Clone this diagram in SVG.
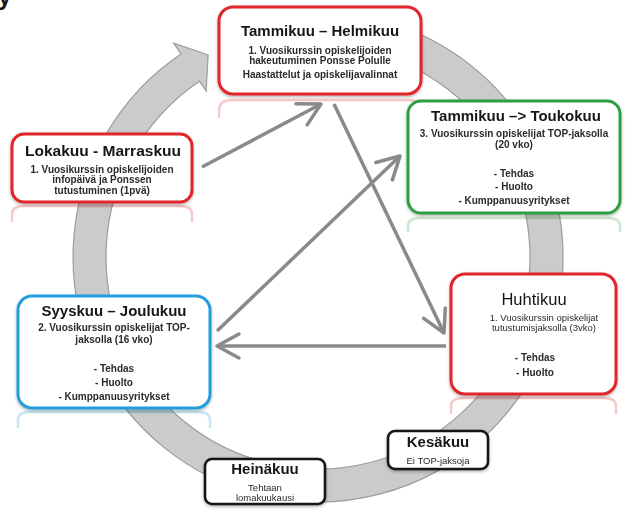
<svg xmlns="http://www.w3.org/2000/svg" width="626" height="512" viewBox="0 0 626 512">
<defs>
<style>
.box{fill:#fff;stroke-width:3}
.red{stroke:#e0252a}
.green{stroke:#2f9e44}
.blue{stroke:#239fda}
.blk{fill:#fff;stroke:#151515;stroke-width:2.6}
.t{font-family:"Liberation Sans",Arial,sans-serif;font-weight:bold;fill:#151515;text-anchor:middle}
.tr{font-family:"Liberation Sans",Arial,sans-serif;fill:#151515;text-anchor:middle}
.b{font-family:"Liberation Sans",Arial,sans-serif;font-weight:bold;font-size:10px;fill:#2a2a2a;text-anchor:middle}
.r{font-family:"Liberation Sans",Arial,sans-serif;font-size:9.5px;fill:#2a2a2a;text-anchor:middle}
.conn{fill:none;stroke:#8a8a8a;stroke-width:3.5;marker-end:url(#ah)}
.refl{fill:none;stroke-width:2.5;opacity:0.25}
</style>
<marker id="ah" markerUnits="userSpaceOnUse" markerWidth="40" markerHeight="40" viewBox="-30 -20 40 40" refX="0" refY="0" orient="auto" overflow="visible">
<path d="M-22,-12 L0,0 L-22,12" fill="none" stroke="#8a8a8a" stroke-width="3.5" stroke-linejoin="round" stroke-linecap="round"/>
</marker>
<filter id="sh" x="-10%" y="-10%" width="120%" height="130%">
<feDropShadow dx="0" dy="1.5" stdDeviation="1.5" flood-color="#000" flood-opacity="0.3"/>
</filter>
</defs>

<text x="-2" y="5" class="t" style="font-size:24px;text-anchor:start">y</text>

<g id="ring">
<path d="M339.4,12.9 A245,245 0 1 1 181.0,53.9 L173.7,43.1 L208.1,54.8 L206.2,91.2 L199.5,81.2 A212,212 0 1 0 336.5,45.8 Z" fill="#cbcbcb" stroke="#9c9c9c" stroke-width="1.2"/>
</g>

<g id="reflections">
<path class="refl" stroke="#e0252a" d="M219,118 V110 Q219,100 233,100 H407 Q421,100 421,110 V118"/>
<path class="refl" stroke="#2f9e44" d="M408,232 V226 Q408,218 420,218 H608 Q620,218 620,226 V232"/>
<path class="refl" stroke="#e0252a" d="M12,222 V214 Q12,206 24,206 H180 Q192,206 192,214 V222"/>
<path class="refl" stroke="#239fda" d="M18,428 V420 Q18,412 30,412 H198 Q210,412 210,420 V428"/>
<path class="refl" stroke="#e0252a" d="M451,414 V406 Q451,398 463,398 H604 Q616,398 616,406 V414"/>
</g>

<g id="connectors">
<path class="conn" d="M202,167 L321,104"/>
<path class="conn" d="M334,104 L444,333"/>
<path class="conn" d="M446,346 L217,346"/>
<path class="conn" d="M217,331 L400,156"/>
</g>

<g id="n-tammi-helmi" filter="url(#sh)">
<rect class="box red" x="219" y="7" width="202" height="87" rx="14"/>
<text class="t" x="320" y="36" font-size="15">Tammikuu – Helmikuu</text>
<text class="b" x="320" y="54">1. Vuosikurssin opiskelijoiden</text>
<text class="b" x="320" y="64">hakeutuminen Ponsse Polulle</text>
<text class="b" x="320" y="78">Haastattelut ja opiskelijavalinnat</text>
</g>

<g id="n-tammi-touko" filter="url(#sh)">
<rect class="box green" x="408" y="101" width="212" height="112" rx="13"/>
<text class="t" x="516" y="121" font-size="15">Tammikuu –&gt; Toukokuu</text>
<text class="b" x="514" y="137">3. Vuosikurssin opiskelijat TOP-jaksolla</text>
<text class="b" x="514" y="148">(20 vko)</text>
<text class="b" x="514" y="177">- Tehdas</text>
<text class="b" x="514" y="190">- Huolto</text>
<text class="b" x="514" y="204">- Kumppanuusyritykset</text>
</g>

<g id="n-loka-marras" filter="url(#sh)">
<rect class="box red" x="12" y="134" width="180" height="68" rx="12"/>
<text class="t" x="103" y="156" font-size="15.5">Lokakuu - Marraskuu</text>
<text class="b" x="102" y="173">1. Vuosikurssin opiskelijoiden</text>
<text class="b" x="102" y="183">infopäivä ja Ponssen</text>
<text class="b" x="102" y="194">tutustuminen (1pvä)</text>
</g>

<g id="n-syys-joulu" filter="url(#sh)">
<rect class="box blue" x="18" y="296" width="192" height="112" rx="14"/>
<text class="t" x="114" y="316" font-size="15">Syyskuu – Joulukuu</text>
<text class="b" x="114" y="331">2. Vuosikurssin opiskelijat TOP-</text>
<text class="b" x="114" y="343">jaksolla (16 vko)</text>
<text class="b" x="114" y="372">- Tehdas</text>
<text class="b" x="114" y="386">- Huolto</text>
<text class="b" x="114" y="400">- Kumppanuusyritykset</text>
</g>

<g id="n-huhti" filter="url(#sh)">
<rect class="box red" x="451" y="274" width="165" height="120" rx="14"/>
<text class="tr" x="534" y="305" font-size="16.5">Huhtikuu</text>
<text class="r" x="544" y="321">1. Vuosikurssin opiskelijat</text>
<text class="r" x="544" y="331">tutustumisjaksolla (3vko)</text>
<text class="b" x="535" y="361">- Tehdas</text>
<text class="b" x="535" y="376">- Huolto</text>
</g>

<g id="n-kesa" filter="url(#sh)">
<rect class="blk" x="388" y="431" width="100" height="38" rx="7"/>
<text class="t" x="438" y="447" font-size="15">Kesäkuu</text>
<text class="r" x="438" y="464" font-size="9">Ei TOP-jaksoja</text>
</g>

<g id="n-heina" filter="url(#sh)">
<rect class="blk" x="205" y="459" width="120" height="45" rx="7"/>
<text class="t" x="265" y="474" font-size="15">Heinäkuu</text>
<text class="r" x="265" y="491" font-size="8.5">Tehtaan</text>
<text class="r" x="265" y="501" font-size="8.5">lomakuukausi</text>
</g>
</svg>
